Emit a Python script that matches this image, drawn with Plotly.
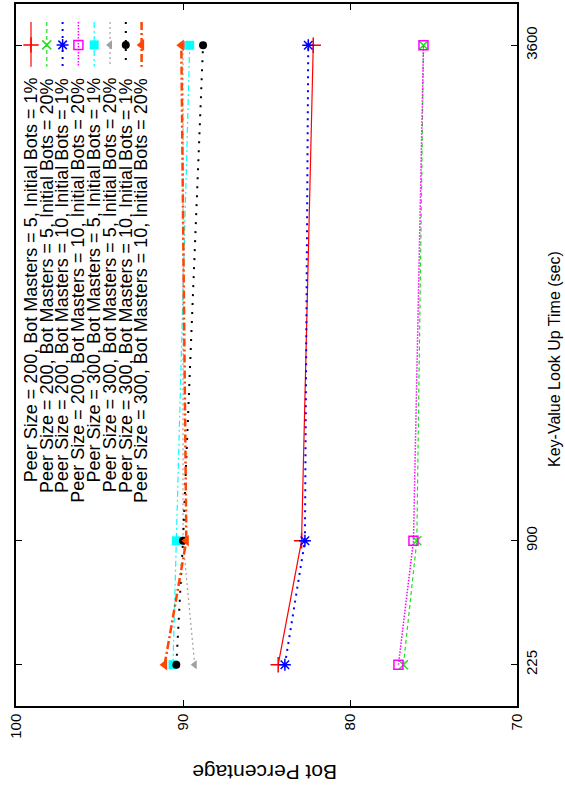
import plotly.graph_objects as go

# ---------------- data ----------------
lookup_times = [225, 900, 3600]
tick_times = [225, 900, 3600]
pct_ticks = [70, 80, 90, 100]

peer_sizes = [200, 200, 200, 200, 300, 300, 300, 300]
bot_masters = [5, 5, 10, 10, 5, 5, 10, 10]
initial_bots = ["1%", "20%", "1%", "20%", "1%", "20%", "1%", "20%"]

s_200_5_1 = [84.3, 82.9, 82.2]
s_200_5_20 = [76.8, 76.0, 75.6]
s_200_10_1 = [83.9, 82.7, 82.5]
s_200_10_20 = [77.1, 76.2, 75.6]
s_300_5_1 = [90.6, 90.4, 89.6]
s_300_5_20 = [89.3, 90.0, 90.0]
s_300_10_1 = [90.4, 90.0, 88.8]
s_300_10_20 = [91.1, 89.8, 90.1]
series_values = [s_200_5_1, s_200_5_20, s_200_10_1, s_200_10_20,
                 s_300_5_1, s_300_5_20, s_300_10_1, s_300_10_20]

labels = [f"Peer Size = {p}, Bot Masters = {b}, Initial Bots = {i}"
          for p, b, i in zip(peer_sizes, bot_masters, initial_bots)]

# ---------------- styles ----------------
colors = ["#ff0000", "#22dd22", "#0000ff", "#ff00ff",
          "#00ffff", "#a0a0a0", "#000000", "#ff4500"]
dashes = ["solid", "4px,3px", "2px,5px", "1.5px,1.5px",
          "6px,3px,2px,3px", "2px,3px", "2px,7px", "8px,3px,2px,3px"]
widths = [1.2, 1.2, 2, 1.5, 1.2, 1.2, 2, 2.5]
symbols = ["cross-thin-open", "x-thin-open", "asterisk-open", "square-open",
           "square", "triangle-left", "circle", "triangle-left"]
msizes = [11, 9, 10, 9, 9, 8, 8, 10]

W, H = 565, 789
PL, PR, PT, PB = 16, 517, 2, 706
FONT = "Liberation Sans, Arial, Helvetica, sans-serif"
FS_TICK = 15
FS_LEG = 18
FS_TITLE_Y = 16
FS_TITLE_X = 21


def px2paper_x(px):
    return (px - PL) / (PR - PL)


def px2paper_y(py):
    return (PB - py) / (PB - PT)


fig = go.Figure()

for vals, lab, c, d, w, s, ms in zip(series_values, labels, colors, dashes, widths, symbols, msizes):
    mline = dict(color=c, width=1.5) if "open" in s else dict(width=0)
    fig.add_trace(go.Scatter(
        x=vals, y=lookup_times, mode="lines+markers", name=lab,
        line=dict(color=c, width=w, dash=d),
        marker=dict(symbol=s, size=ms, color=c, line=mline),
        showlegend=False, xaxis="x", yaxis="y"))

# ---------------- rotated legend (drawn on a pixel overlay axis) ----------------
leg_x0, leg_dx = 31, 15.8
leg_line_top, leg_line_bot, leg_mark = 20, 65, 43
leg_text_top = 74
annotations = []
for k, (lab, c, d, w, s, ms) in enumerate(zip(labels, colors, dashes, widths, symbols, msizes)):
    cx = leg_x0 + k * leg_dx
    fig.add_trace(go.Scatter(
        x=[cx, cx], y=[leg_line_top, leg_line_bot], mode="lines",
        line=dict(color=c, width=w, dash=d), showlegend=False,
        hoverinfo="skip", xaxis="x2", yaxis="y2"))
    mline = dict(color=c, width=1.5) if "open" in s else dict(width=0)
    fig.add_trace(go.Scatter(
        x=[cx], y=[leg_mark], mode="markers",
        marker=dict(symbol=s, size=ms, color=c, line=mline), showlegend=False,
        hoverinfo="skip", xaxis="x2", yaxis="y2"))
    annotations.append(dict(
        text=lab, x=px2paper_x(cx), y=px2paper_y(leg_text_top), xref="paper", yref="paper",
        xanchor="center", yanchor="top", textangle=-90, showarrow=False,
        font=dict(family=FONT, size=FS_LEG, color="black")))

# axis titles
annotations.append(dict(
    text="Bot Percentage", x=px2paper_x(265), y=px2paper_y(772), xref="paper", yref="paper",
    xanchor="center", yanchor="middle", textangle=180, showarrow=False,
    font=dict(family=FONT, size=FS_TITLE_X, color="black")))
annotations.append(dict(
    text="Key-Value Look Up Time (sec)", x=px2paper_x(555), y=px2paper_y(358),
    xref="paper", yref="paper",
    xanchor="center", yanchor="middle", textangle=-90, showarrow=False,
    font=dict(family=FONT, size=FS_TITLE_Y, color="black")))

axis_common = dict(
    showgrid=False, zeroline=False, showline=True, linecolor="black",
    linewidth=1.5, mirror="ticks", ticks="inside", ticklen=6,
    tickwidth=1, tickcolor="black",
    tickfont=dict(family=FONT, size=FS_TICK, color="black"), tickangle=-90)

fig.update_layout(
    width=W, height=H,
    margin=dict(l=PL, r=W - PR, t=PT, b=H - PB, pad=0),
    paper_bgcolor="white", plot_bgcolor="white",
    showlegend=False,
    xaxis=dict(range=[100, 70], tickvals=pct_ticks, ticktext=[str(v) for v in pct_ticks],
               side="bottom", **axis_common),
    yaxis=dict(range=[0, 3825], tickvals=tick_times, ticktext=[str(v) for v in tick_times],
               side="right", **axis_common),
    xaxis2=dict(range=[PL, PR], overlaying="x", visible=False, fixedrange=True),
    yaxis2=dict(range=[PB, PT], overlaying="y", visible=False, fixedrange=True),
    annotations=annotations,
)

fig.write_html("out.html")
